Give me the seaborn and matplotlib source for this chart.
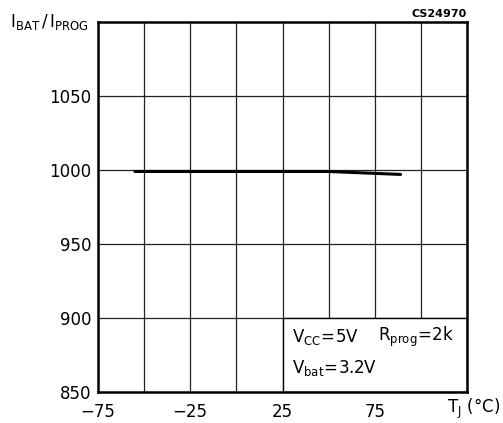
import matplotlib
matplotlib.use("Agg")
import matplotlib.pyplot as plt
import matplotlib.patches as mpatches
import seaborn as sns
import pandas as pd

# Junction temperature (°C) and current ratio IBAT/IPROG
temperature = [-55, 50, 89]
ratio = [999, 999, 997]

x_ticks = [-75, -25, 25, 75]
y_ticks = [850, 900, 950, 1000, 1050]

sns.set_theme(style="white")
plt.rcParams["font.family"] = ["DejaVu Sans"]
plt.rcParams["mathtext.fontset"] = "dejavusans"
plt.rcParams["text.color"] = "black"

df = pd.DataFrame({"T": temperature, "ratio": ratio})

fig = plt.figure(figsize=(5.03, 4.23), dpi=100)
ax = fig.add_axes([98 / 503, 1 - 392 / 423, 369 / 503, 370 / 423])

ax.set_xlim(-75, 125)
ax.set_ylim(850, 1100)

# grid every 25 °C and every 50 units
for gx in range(-50, 125, 25):
    ax.axvline(gx, color="#222222", lw=0.9, zorder=1)
for gy in range(900, 1100, 50):
    ax.axhline(gy, color="#222222", lw=0.9, zorder=1)

# conditions box covers the lower-right cells
ax.add_patch(mpatches.Rectangle((25, 850), 100, 50, facecolor="white",
                                edgecolor="black", lw=1.0, zorder=2))
ax.text(30, 887, r"$\mathregular{V_{CC}\!=\!5V}$", fontsize=12, va="center", ha="left",
        color="black", zorder=3)
ax.text(77, 887, r"$\mathregular{R_{prog}\!=\!2k}$", fontsize=12, va="center", ha="left",
        color="black", zorder=3)
ax.text(30, 866, r"$\mathregular{V_{bat}\!=\!3.2V}$", fontsize=12, va="center", ha="left",
        color="black", zorder=3)

sns.lineplot(data=df, x="T", y="ratio", ax=ax, color="black", lw=2.2, zorder=4)

ax.set_xticks(x_ticks)
ax.set_xticklabels(["\u221275", "\u221225", "25", "75"], fontsize=12)
ax.set_yticks(y_ticks)
ax.set_yticklabels([str(v) for v in y_ticks], fontsize=12)
ax.tick_params(axis="x", length=0, pad=8, colors="black")
ax.tick_params(axis="y", length=0, pad=5, colors="black")
ax.set_xlabel("")
ax.set_ylabel("")
for s in ax.spines.values():
    s.set_color("black")
    s.set_linewidth(1.8)
    s.set_zorder(5)

fig.text(10 / 503, 1 - 22 / 423, r"$\mathregular{I_{BAT}\,/\,I_{PROG}}$", fontsize=12,
         ha="left", va="center", color="black")
fig.text(467 / 503, 1 - 14 / 423, "CS24970", fontsize=8, fontweight="bold",
         ha="right", va="center", color="black")
fig.text(500 / 503, 1 - 409 / 423, r"$\mathregular{T_J\ (\degree C)}$", fontsize=12,
         ha="right", va="center", color="black")

fig.savefig("out.png", dpi=100, facecolor="white")
